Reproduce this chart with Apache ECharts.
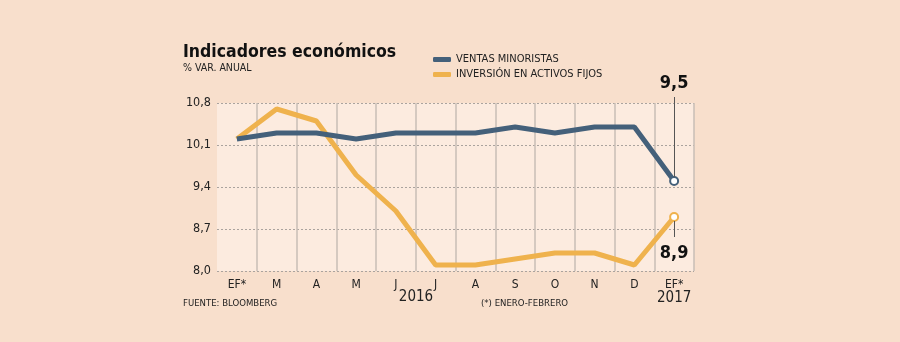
<!DOCTYPE html>
<html><head><meta charset="utf-8">
<script src="https://cdn.jsdelivr.net/npm/echarts@6/dist/echarts.min.js"></script>
<style>html,body{margin:0;padding:0;background:#f8dfcc;}#c{width:900px;height:342px;}</style>
</head><body><div id="c"></div>
<script>
const categories = ['EF*','M','A','M','J','J','A','S','O','N','D','EF*'];
const ventas = [10.2,10.3,10.3,10.2,10.3,10.3,10.3,10.4,10.3,10.4,10.4,9.5];
const inversion = [10.2,10.7,10.5,9.6,9.0,8.1,8.1,8.2,8.3,8.3,8.1,8.9];
const yTicks = [8.0,8.7,9.4,10.1,10.8];
const years = ['2016','2017'];

const FONT = 'DejaVu Sans Condensed, Liberation Sans, sans-serif';
const BLUE = '#44607a', ORANGE = '#efb24d';
const fmt = v => v.toFixed(1).replace('.', ',');

function mkData(arr, color, labelPos, dist) {
  return arr.map((v, i) => {
    if (i < arr.length - 1) return v;
    return {
      value: v, symbol: 'circle', symbolSize: 8,
      itemStyle: {color: '#fff', borderColor: color, borderWidth: 2},
      label: {show: true, position: labelPos, distance: dist, formatter: p => fmt(p.value),
        fontFamily: FONT, fontSize: 18, fontWeight: 'bold', color: '#111'}
    };
  });
}
const last = a => a[a.length - 1];
const lastIdx = categories.length - 1;
const chart = echarts.init(document.getElementById('c'), null, {renderer: 'canvas'});
const leader = {silent: true, symbol: 'none', label: {show: false}, animation: false,
  lineStyle: {color: '#555', width: 1, type: 'solid'}, data: []};
chart.setOption({
  backgroundColor: '#f8dfcc',
  animation: false,
  textStyle: {fontFamily: FONT},
  title: {text: 'Indicadores económicos', subtext: '% VAR. ANUAL', left: 178, top: 38, itemGap: 2,
    textStyle: {fontFamily: FONT, fontSize: 17.5, fontWeight: 'bold', color: '#111'},
    subtextStyle: {fontFamily: FONT, fontSize: 10.5, color: '#222'}},
  legend: {orient: 'vertical', left: 428, top: 49, itemGap: 4, itemWidth: 18, itemHeight: 5, icon: 'roundRect',
    textStyle: {fontFamily: FONT, fontSize: 11, color: '#222', padding: [0,0,0,0]},
    data: ['VENTAS MINORISTAS', 'INVERSIÓN EN ACTIVOS FIJOS']},
  grid: {left: 217, right: 206, top: 103, bottom: 71, show: true, backgroundColor: '#fcebdf', borderWidth: 0},
  xAxis: {type: 'category', data: categories, boundaryGap: true,
    axisLine: {show: false}, axisTick: {show: false, interval: 0},
    axisLabel: {interval: 0, fontFamily: FONT, fontSize: 12, color: '#222', margin: 8, lineHeight: 12,
      formatter: (v, i) => i === lastIdx ? v + '\n{y|' + years[1] + '}' : v,
      rich: {y: {fontFamily: FONT, fontSize: 15, color: '#222', lineHeight: 14}}},
    splitLine: {show: true, interval: 0, showMinLine: false, lineStyle: {color: '#c9beb6', width: 1.5}}},
  yAxis: {type: 'value', min: 8.0, max: 10.8,
    axisLine: {show: false},
    axisTick: {show: false, customValues: yTicks},
    axisLabel: {customValues: yTicks, fontFamily: FONT, fontSize: 12.5, color: '#222', margin: 6, formatter: v => fmt(v)},
    splitLine: {show: true, lineStyle: {color: '#aaa39e', type: [2, 2], width: 1}}},
  graphic: [{type: 'text', x: 416, y: 297, style: {text: years[0], font: '15px ' + FONT, fill: '#222', textAlign: 'center', textVerticalAlign: 'middle'}},
    {type: 'text', left: 183, top: 299, style: {text: 'FUENTE: BLOOMBERG', font: '9.5px ' + FONT, fill: '#222'}},
    {type: 'text', left: 481, top: 299, style: {text: '(*) ENERO-FEBRERO', font: '9.5px ' + FONT, fill: '#222'}}],
  series: [
    {name: 'VENTAS MINORISTAS', type: 'line', data: mkData(ventas, BLUE, 'top', 84), color: BLUE,
      symbol: 'none', showSymbol: true, lineStyle: {width: 5, color: BLUE}, z: 3, markLine: leader},
    {name: 'INVERSIÓN EN ACTIVOS FIJOS', type: 'line', data: mkData(inversion, ORANGE, 'bottom', 22), color: ORANGE,
      symbol: 'none', showSymbol: true, lineStyle: {width: 5, color: ORANGE}, z: 2, markLine: leader}
  ]
});
// leader lines from the last points to their value labels
const pb = chart.convertToPixel({gridIndex: 0}, [lastIdx, last(ventas)]);
const po = chart.convertToPixel({gridIndex: 0}, [lastIdx, last(inversion)]);
chart.setOption({series: [
  {markLine: Object.assign({}, leader, {data: [[{x: pb[0], y: pb[1] - 4}, {x: pb[0], y: 97}]]})},
  {markLine: Object.assign({}, leader, {data: [[{x: po[0], y: po[1] + 4}, {x: po[0], y: 237}]]})}
]});
</script></body></html>
